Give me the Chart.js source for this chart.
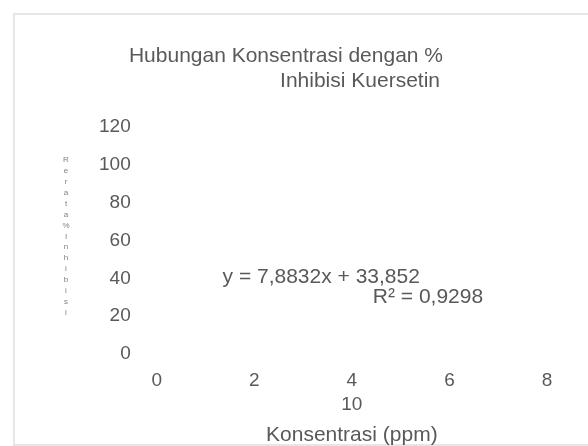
<!DOCTYPE html>
<html>
<head>
<meta charset="utf-8">
<script src="https://cdn.jsdelivr.net/npm/chart.js@4.4.1/dist/chart.umd.min.js"></script>
<style>
  html, body { margin: 0; padding: 0; background: #fff; overflow: hidden; }
  #wrap { position: relative; width: 588px; height: 446px; }
</style>
</head>
<body>
<div id="wrap"><canvas id="chart"></canvas></div>
<script>
// judul dan label sumbu
const titleLines = ['Hubungan Konsentrasi dengan %', 'Inhibisi Kuersetin'];
const xTitle = 'Konsentrasi (ppm)';
const yTitle = 'Rerata % Inhibisi';

// tick sumbu (label 10 terbungkus ke baris bawah seperti di gambar)
const xTicks = [0, 2, 4, 6, 8, 10];
const yTicks = [0, 20, 40, 60, 80, 100, 120];

// persamaan garis tren
const trendSlope = '7,8832';
const trendIntercept = '33,852';
const trendR2 = '0,9298';

const textColor = '#595959';
const fontFamily = '"Liberation Sans", Arial, sans-serif';

const decorPlugin = {
	id: 'decor',
	beforeDraw(chart) {
		const ctx = chart.ctx;
		ctx.save();
		ctx.fillStyle = '#fff';
		ctx.fillRect(0, 0, chart.width, chart.height);
		// bingkai area grafik
		ctx.strokeStyle = '#e6e6e6';
		ctx.lineWidth = 2;
		ctx.strokeRect(14, 14, chart.width + 20, chart.height - 15);
		ctx.restore();
	},
	afterDraw(chart) {
		const ctx = chart.ctx;
		const x = chart.scales.x;
		const y = chart.scales.y;
		ctx.save();
		ctx.fillStyle = textColor;

		// judul, rata kanan
		ctx.font = '21px ' + fontFamily;
		ctx.textAlign = 'right';
		ctx.textBaseline = 'alphabetic';
		ctx.fillText(titleLines[0], 443, 62);
		ctx.fillText(titleLines[1], 440, 87);

		// judul sumbu Y, huruf bertumpuk
		ctx.font = '8px ' + fontFamily;
		ctx.fillStyle = '#808080';
		ctx.textAlign = 'center';
		ctx.textBaseline = 'middle';
		const chars = yTitle.replace(/ /g, '').split('');
		chars.forEach((c, i) => {
			ctx.fillText(c, 66, 160 + i * 10.9);
		});

		// label persamaan tren
		ctx.fillStyle = textColor;
		ctx.font = '21px ' + fontFamily;
		ctx.textAlign = 'left';
		ctx.textBaseline = 'alphabetic';
		ctx.fillText('y = ' + trendSlope + 'x + ' + trendIntercept, x.getPixelForValue(1.35), y.getPixelForValue(37.5));
		ctx.fillText('R\u00b2 = ' + trendR2, x.getPixelForValue(4.43), y.getPixelForValue(27));
		ctx.restore();
	}
};

new Chart(document.getElementById('chart').getContext('2d'), {
	type: 'scatter',
	data: {
		datasets: [{
			label: 'Rerata % Inhibisi',
			data: [],
			showLine: false
		}]
	},
	options: {
		responsive: true,
		maintainAspectRatio: false,
		animation: false,
		layout: {
			padding: { left: 73, right: 41, top: 127, bottom: 0 }
		},
		scales: {
			x: {
				type: 'linear',
				min: xTicks[0],
				max: xTicks[xTicks.length - 2],
				afterBuildTicks: (axis) => {
					axis.ticks = xTicks.slice(0, -1).map(v => ({ value: v }));
				},
				afterFit: (axis) => { axis.height = 92; },
				grid: { display: false, drawTicks: false },
				border: { display: false },
				ticks: {
					color: textColor,
					padding: 15,
					maxRotation: 0,
					autoSkip: false,
					font: { family: fontFamily, size: 19, lineHeight: 1.263 },
					callback: (v) => v === 4 ? [String(v), String(xTicks[xTicks.length - 1])] : String(v)
				},
				title: {
					display: true,
					text: xTitle,
					color: textColor,
					padding: { top: 0, bottom: 0 },
					font: { family: fontFamily, size: 21, lineHeight: 1 }
				}
			},
			y: {
				type: 'linear',
				min: yTicks[0],
				max: yTicks[yTicks.length - 1],
				afterBuildTicks: (axis) => {
					axis.ticks = yTicks.map(v => ({ value: v }));
				},
				grid: { display: false, drawTicks: false },
				border: { display: false },
				ticks: {
					color: textColor,
					padding: 26,
					font: { family: fontFamily, size: 19 }
				}
			}
		},
		plugins: {
			legend: { display: false },
			title: { display: false },
			tooltip: { enabled: false }
		}
	},
	plugins: [decorPlugin]
});
</script>
</body>
</html>
